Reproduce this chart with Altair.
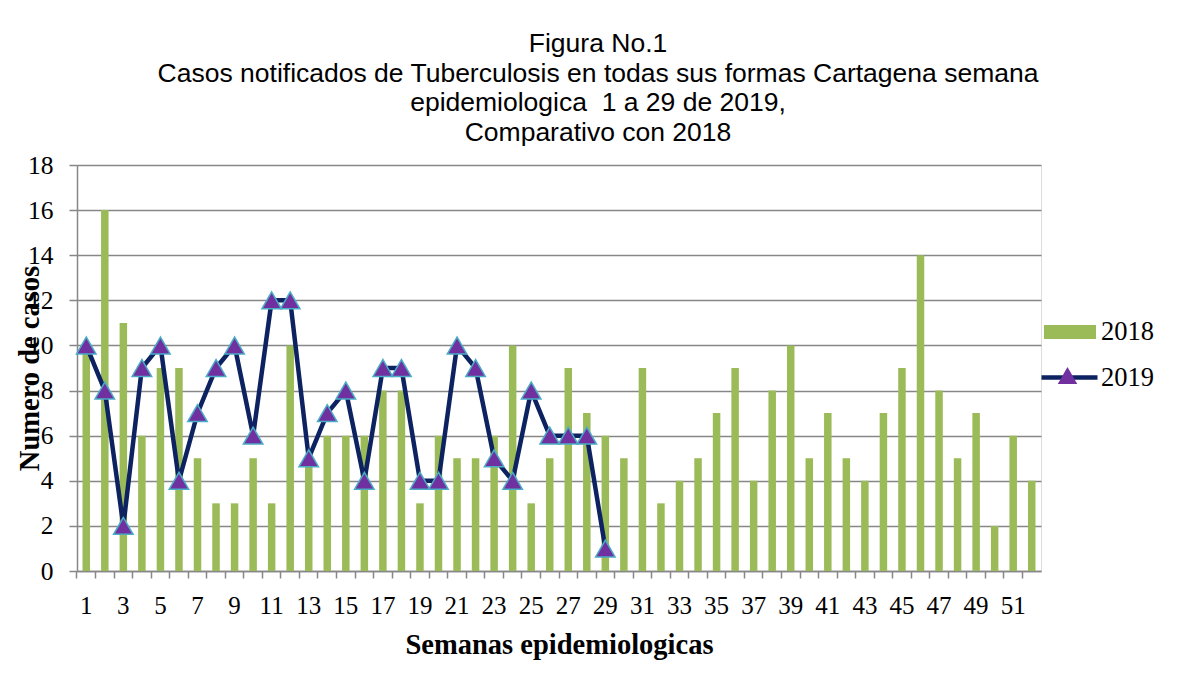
import altair as alt
import pandas as pd

# ---- data ----
semanas = list(range(1, 53))
casos_2018 = [10, 16, 11, 6, 9, 9, 5, 3, 3, 5, 3, 10, 5, 6, 6, 6, 8, 8, 3, 6,
              5, 5, 6, 10, 3, 5, 9, 7, 6, 5, 9, 3, 4, 5, 7, 9, 4, 8, 10, 5,
              7, 5, 4, 7, 9, 14, 8, 5, 7, 2, 6, 4]
semanas_2019 = list(range(1, 30))
casos_2019 = [10, 8, 2, 9, 10, 4, 7, 9, 10, 6, 12, 12, 5, 7, 8, 4, 9, 9, 4, 4,
              10, 9, 5, 4, 8, 6, 6, 6, 1]
y_ticks = list(range(0, 19, 2))
titulo = [
    "Figura No.1",
    "Casos notificados de Tuberculosis en todas sus formas Cartagena semana",
    "epidemiologica\u00a0 1 a 29 de 2019,",
    "Comparativo con 2018",
]

df18 = pd.DataFrame({"semana": semanas, "casos": casos_2018, "serie": "2018"})
df19 = pd.DataFrame({"semana": semanas_2019, "casos": casos_2019,
                     "serie": "2019", "marca": "2019"})

GREEN = "#9bbb59"
NAVY = "#0d2260"
PURPLE = "#7030a0"
LBLUE = "#4bacc6"
GRID = "#878787"
SERIF = "Liberation Serif"

x_enc = alt.X(
    "semana:O",
    scale=alt.Scale(domain=semanas, paddingInner=0, paddingOuter=0),
    axis=alt.Axis(
        title="Semanas epidemiologicas",
        titleFont=SERIF, titleFontSize=28.5, titleFontWeight="bold", titleColor="black",
        titleBaseline="alphabetic", titleY=82,
        labelExpr="datum.value % 2 == 1 ? datum.label : ''",
        labelFont=SERIF, labelFontSize=25, labelColor="black", labelAngle=0,
        labelBaseline="alphabetic", labelPadding=35,
        bandPosition=0, tickSize=7, tickColor=GRID, tickWidth=1.5,
        domainColor=GRID, domainWidth=1.5, grid=False,
    ),
)
y_enc = alt.Y(
    "casos:Q",
    scale=alt.Scale(domain=[0, 18], nice=False),
    axis=alt.Axis(
        values=y_ticks,
        title="Numero de casos",
        titleFont=SERIF, titleFontSize=28.5, titleFontWeight="bold", titleColor="black",
        titleBaseline="alphabetic", titleX=-39, titleAngle=270, titleAlign="center",
        labelFont=SERIF, labelFontSize=25.5, labelColor="black", labelPadding=16,
        tickSize=8, tickColor=GRID, tickWidth=1.5,
        domainColor=GRID, domainWidth=1.5,
        grid=True, gridColor=GRID, gridWidth=1.6,
    ),
)

bars = alt.Chart(df18).mark_bar(size=7.5).encode(
    x=x_enc,
    y=y_enc,
    fill=alt.Fill(
        "serie:N",
        scale=alt.Scale(range=[GREEN]),
        legend=alt.Legend(
            title=None, orient="none", legendX=967, legendY=141, padding=0,
            symbolType="M-1,-0.27H1V0.27H-1Z", symbolSize=2704, symbolStrokeWidth=0,
            labelFont=SERIF, labelFontSize=26.5, labelColor="black", labelOffset=5,
        ),
    ),
)

line = alt.Chart(df19).mark_line(strokeWidth=4.5).encode(
    x=x_enc,
    y=y_enc,
    stroke=alt.Stroke(
        "serie:N",
        scale=alt.Scale(range=[NAVY]),
        legend=alt.Legend(
            title=None, orient="none", legendX=962, legendY=182, padding=0,
            symbolType="stroke", symbolSize=3136, symbolStrokeWidth=4.5,
            labelFont=SERIF, labelFontSize=26.5, labelColor="black", labelOffset=1,
        ),
    ),
)

points = alt.Chart(df19).mark_point(
    filled=True, size=380, fill=PURPLE, stroke=LBLUE, strokeWidth=1.5, opacity=1
).encode(
    x=x_enc,
    y=y_enc,
    shape=alt.Shape(
        "marca:N",
        scale=alt.Scale(range=["triangle-up"]),
        legend=alt.Legend(
            title=None, orient="none", legendX=980, legendY=200, padding=0,
            symbolSize=380, symbolFillColor=PURPLE, symbolStrokeColor=LBLUE,
            symbolStrokeWidth=1.5, symbolOpacity=1,
            labelExpr="''", labelFontSize=10,
        ),
    ),
)

chart = (
    alt.layer(bars, line, points)
    .properties(
        width=964,
        height=406,
        autosize=alt.AutoSizeParams(type="none"),
        padding={"left": 69, "top": 157, "right": 128, "bottom": 110},
        title=alt.TitleParams(
            text=titulo, font="Liberation Sans", fontSize=26.5, fontWeight="normal",
            color="black", lineHeight=29.5, anchor="middle", frame="group",
            dx=39, offset=7,
        ),
    )
    .configure_view(stroke=None)
    .configure(background="white")
)

chart.save("out.html", embed_options={"renderer": "svg", "actions": False})
